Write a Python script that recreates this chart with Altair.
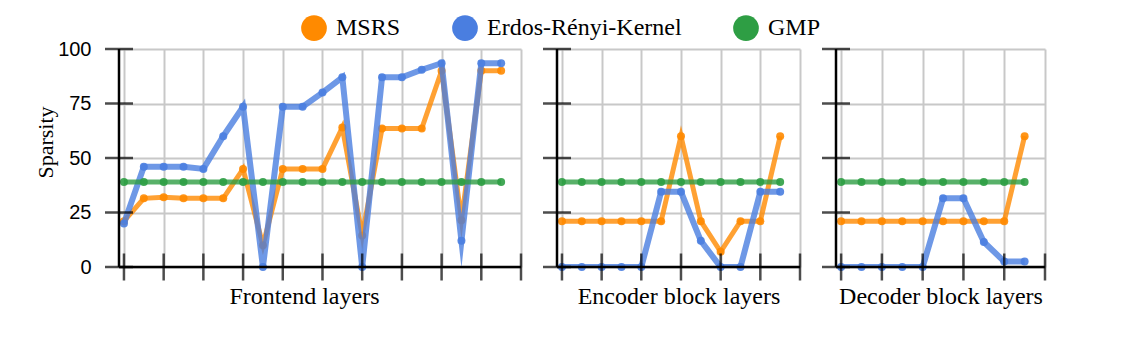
import altair as alt
import pandas as pd

series_names = ["MSRS", "Erdos-Rényi-Kernel", "GMP"]
series_colors = ["#FF8A00", "#4A7EE0", "#2E9E44"]

# Frontend layers (20)
frontend_msrs = [21, 31.5, 32, 31.5, 31.5, 31.5, 45, 10, 45, 45, 45, 64, 14.5, 63.5, 63.5, 63.5, 90, 21.5, 90, 90]
frontend_erk = [20, 46, 46, 46, 45, 60, 73.5, 0, 73.5, 73.5, 80, 87, 0, 87, 87, 90.5, 93.5, 12, 93.5, 93.5]
frontend_gmp = [39, 39, 39, 39, 39, 39, 39, 39, 39, 39, 39, 39, 39, 39, 39, 39, 39, 39, 39, 39]

# Encoder block layers (12)
encoder_msrs = [21, 21, 21, 21, 21, 21, 60, 21, 7, 21, 21, 60]
encoder_erk = [0, 0, 0, 0, 0, 34.5, 34.5, 12, 0, 0, 34.5, 34.5]
encoder_gmp = [39, 39, 39, 39, 39, 39, 39, 39, 39, 39, 39, 39]

# Decoder block layers (10)
decoder_msrs = [21, 21, 21, 21, 21, 21, 21, 21, 21, 60]
decoder_erk = [0, 0, 0, 0, 0, 31.5, 31.5, 11.5, 2.5, 2.5]
decoder_gmp = [39, 39, 39, 39, 39, 39, 39, 39, 39, 39]

y_ticks = [0, 25, 50, 75, 100]
X_START = -0.25
PLOT_H = 218

SERIF = "Liberation Serif"
SANS = "Liberation Sans"


def make_panel(msrs, erk, gmp, x_end, width, xtitle, show_y, title_x):
    rows = []
    for name, vals in zip(series_names, [msrs, erk, gmp]):
        for i, v in enumerate(vals):
            rows.append({"layer": i, "sparsity": v, "method": name})
    df = pd.DataFrame(rows)

    x_tick_vals = list(range(0, x_end + 1, 2))
    xt_df = pd.DataFrame({"layer": x_tick_vals, "sparsity": [0] * len(x_tick_vals)})
    yt_df = pd.DataFrame({"layer": [X_START] * len(y_ticks), "sparsity": y_ticks})
    dom_df = pd.DataFrame({"layer": [X_START, X_START], "layer_end": [x_end, X_START],
                           "sparsity": [0, 0], "sparsity_end": [0, 100]})

    xs = alt.Scale(domain=[X_START, x_end], nice=False, zero=False)
    ys = alt.Scale(domain=[0, 100], nice=False, zero=False)

    xaxis_kw = dict(values=x_tick_vals, labels=False, ticks=False, tickSize=0, domain=False,
                    grid=True, gridColor="#C8C8C8", gridWidth=2, title=xtitle, titleFont=SERIF,
                    titleFontSize=24, titleFontWeight="normal", titleColor="black",
                    titlePadding=17)
    if title_x is not None:
        xaxis_kw["titleX"] = title_x
    xaxis = alt.Axis(**xaxis_kw)
    if show_y:
        yaxis = alt.Axis(values=y_ticks, labels=True, ticks=False, tickSize=0, domain=False,
                         grid=True, gridColor="#C8C8C8", gridWidth=2, labelFont=SANS,
                         labelFontSize=20, labelColor="black", labelPadding=28,
                         title="Sparsity", titleFont=SERIF, titleFontSize=22,
                         titleFontWeight="normal", titleColor="black", titlePadding=0,
                         titleY=93)
    else:
        yaxis = alt.Axis(values=y_ticks, labels=False, ticks=False, tickSize=0, domain=False,
                         grid=True, gridColor="#C8C8C8", gridWidth=2, title="")

    X = alt.X("layer:Q", scale=xs, axis=xaxis)
    Y = alt.Y("sparsity:Q", scale=ys, axis=yaxis)
    color = alt.Color("method:N", scale=alt.Scale(domain=series_names, range=series_colors),
                      legend=alt.Legend(title=None))

    base = alt.Chart(df)
    layers = []
    for name in series_names:
        sw = 6 if name == "Erdos-Rényi-Kernel" else 5
        line = base.transform_filter(alt.datum.method == name).mark_line(
            strokeWidth=sw, opacity=0.8, clip=True, strokeJoin="miter", strokeMiterLimit=12
        ).encode(x=X, y=Y, color=color)
        pts = base.transform_filter(alt.datum.method == name).mark_circle(
            size=64, opacity=0.9
        ).encode(x=X, y=Y, color=color)
        layers += [line, pts]

    dom_rules = alt.Chart(dom_df).mark_rule(color="black", strokeWidth=2.5).encode(
        x=X, x2="layer_end:Q", y=Y, y2="sparsity_end:Q")
    xticks = alt.Chart(xt_df).mark_tick(orient="vertical", size=27, thickness=2.5,
                                        color="black").encode(x=X, y=Y)
    yticks = alt.Chart(yt_df).mark_tick(orient="horizontal", size=28, thickness=2.5,
                                        color="black").encode(x=X, y=Y)

    return alt.layer(*layers, dom_rules, xticks, yticks).properties(width=width, height=PLOT_H)


p1 = make_panel(frontend_msrs, frontend_erk, frontend_gmp, 20, 402, "Frontend layers", True, 185)
p2 = make_panel(encoder_msrs, encoder_erk, encoder_gmp, 12, 243, "Encoder block layers", False, None)
p3 = make_panel(decoder_msrs, decoder_erk, decoder_gmp, 10, 209, "Decoder block layers", False, None)

chart = alt.hconcat(p1, p2, p3, spacing=36, bounds="flush").resolve_scale(
    color="shared"
).configure_view(stroke=None).configure_legend(
    orient="none", legendX=182, legendY=-34, direction="horizontal",
    symbolType="circle", symbolSize=660, symbolStrokeWidth=0, symbolOpacity=1,
    labelFont=SERIF, labelFontSize=24, labelColor="black", labelOffset=9,
    columnPadding=51, labelLimit=400
).properties(padding={"left": 26, "top": 7, "right": 5, "bottom": 5})

chart.save("out.html", embed_options={"renderer": "svg", "actions": False})
